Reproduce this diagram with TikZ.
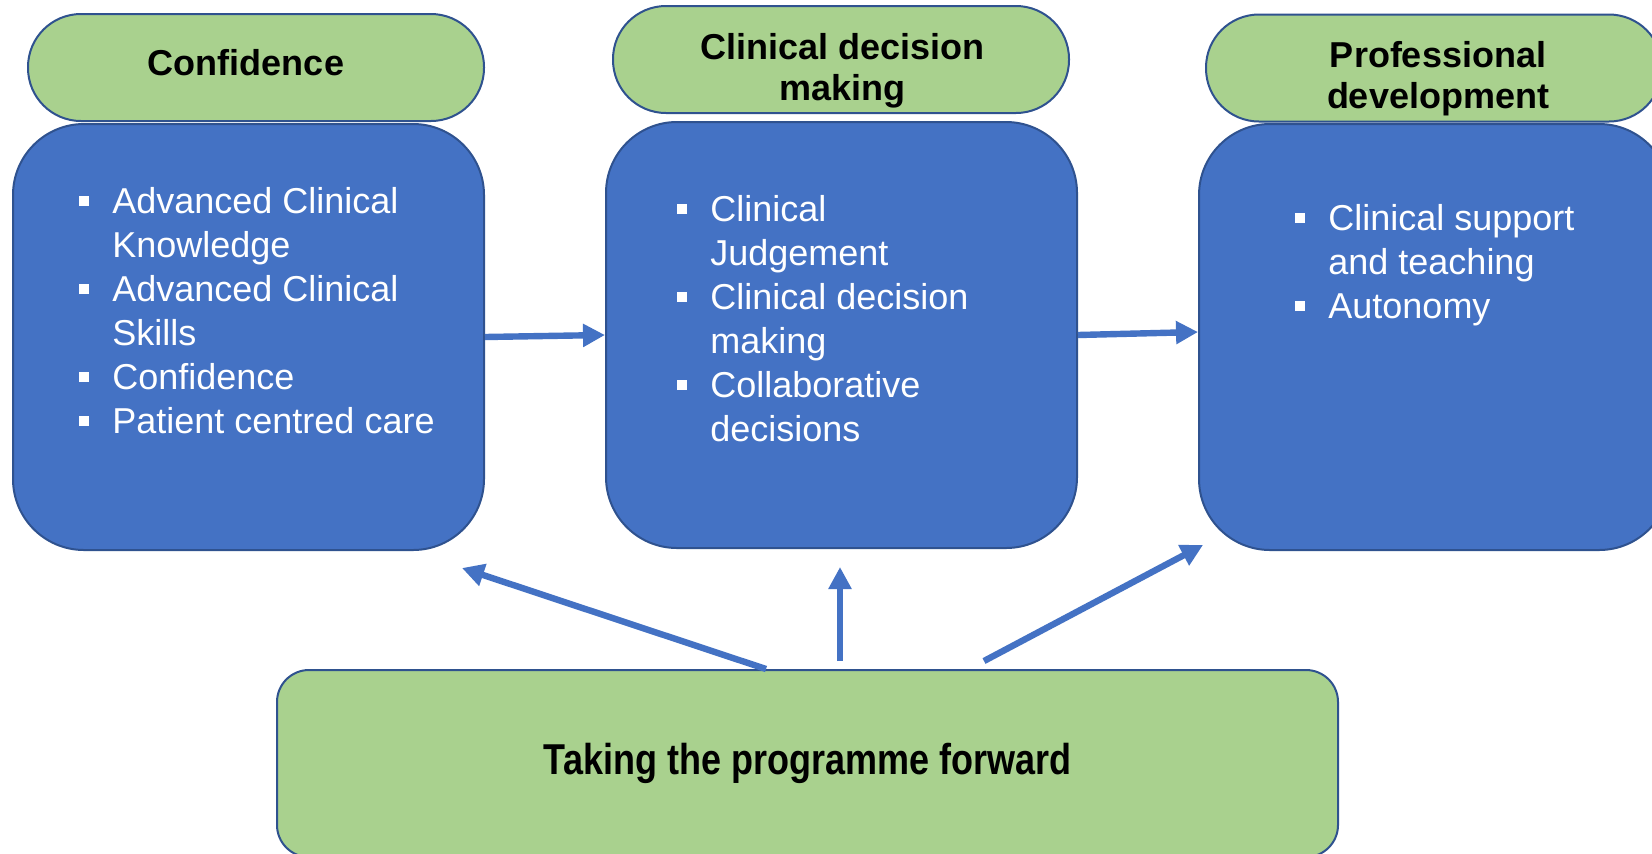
\documentclass[tikz,border=0pt]{standalone}
\usepackage{fontspec}
\setmainfont{Liberation Sans}
\usepackage{graphicx}
\usepackage{tikz}
\usetikzlibrary{arrows.meta}
\definecolor{greenc}{HTML}{A9D18E}
\definecolor{bluec}{HTML}{4472C4}
\definecolor{edgec}{HTML}{2F528F}
\newcommand{\sqb}{\leavevmode\llap{\rule[3.5pt]{5pt}{5pt}\hspace{11.5pt}}}
\tikzset{
  panel/.style={draw=edgec,line width=1pt,fill=bluec,rounded corners=35.5pt,minimum width=235.5pt,minimum height=213pt,inner sep=0pt},
  capsule/.style={draw=edgec,line width=1pt,fill=greenc,rounded corners=26.5pt,minimum width=228pt,minimum height=53.5pt,inner sep=0pt},
  footbox/.style={draw=edgec,line width=1pt,fill=greenc,rounded corners=16pt,minimum width=530.5pt,minimum height=93.5pt,inner sep=0pt},
  ttl/.style={font=\bfseries\fontsize{18pt}{20.5pt}\selectfont,align=center,inner sep=0pt,anchor=base},
  lst/.style={text=white,font=\fontsize{18pt}{22pt}\selectfont,align=left,inner sep=0pt,anchor=base west},
  ar/.style={-{Triangle[length=11pt,width=11pt]},line width=3.2pt,bluec}
}

\begin{document}
\begin{tikzpicture}[x=0.5pt,y=-0.5pt]
\useasboundingbox (0,0) rectangle (1652,853);
\clip (0,0) rectangle (1652,853);
\fill[white] (0,0) rectangle (1652,853);
% three columns: blue panel with a green capsule on top
\foreach \c/\bx/\by/\hx/\hy in {1/248.5/337/256/67.5,2/841.5/335/841/59.5,3/1434.5/337/1434/68}{
 \node[panel] (b\c) at (\bx,\by) {};
 \node[capsule] (h\c) at (\hx,\hy) {};}
% titles (base = last line)
\node[ttl] (t1) at (246,75) {Confidence};
\node[ttl] (t2) at (842.5,100) {Clinical decision\\making};
\node[ttl] (t3) at (1438,108) {Professional\\development};
% bullet lists
\node[lst] (l1) at (112,433) {\sqb Advanced Clinical\\Knowledge\\\sqb Advanced Clinical\\Skills\\\sqb Confidence\\\sqb Patient centred care};
\node[lst] (l2) at (710,441) {\sqb Clinical\\Judgement\\\sqb Clinical decision\\making\\\sqb Collaborative\\decisions};
\node[lst] (l3) at (1328,318) {\sqb Clinical support\\and teaching\\\sqb Autonomy};
% bottom box
\node[footbox,font=\bfseries\fontsize{18pt}{20.5pt}\selectfont] (bot) at (807.5,763.5) {\scalebox{1}[1.2]{Taking the programme forward}};
% arrows
\draw[ar] (b1.east) -- (b2.west);
\draw[ar] (b2.east) -- ([shift={(0,-5)}]b3.west);
\draw[ar] ([shift={(-41.5,0)}]bot.north) -- ([shift={(-23,17)}]b1.south east);
\draw[ar] ([shift={(32.5,-8)}]bot.north) -- ([shift={(-1.5,18)}]b2.south);
\draw[ar] ([shift={(176.5,-8)}]bot.north) -- ([shift={(5,-6)}]b3.south west);
\end{tikzpicture}
\end{document}
